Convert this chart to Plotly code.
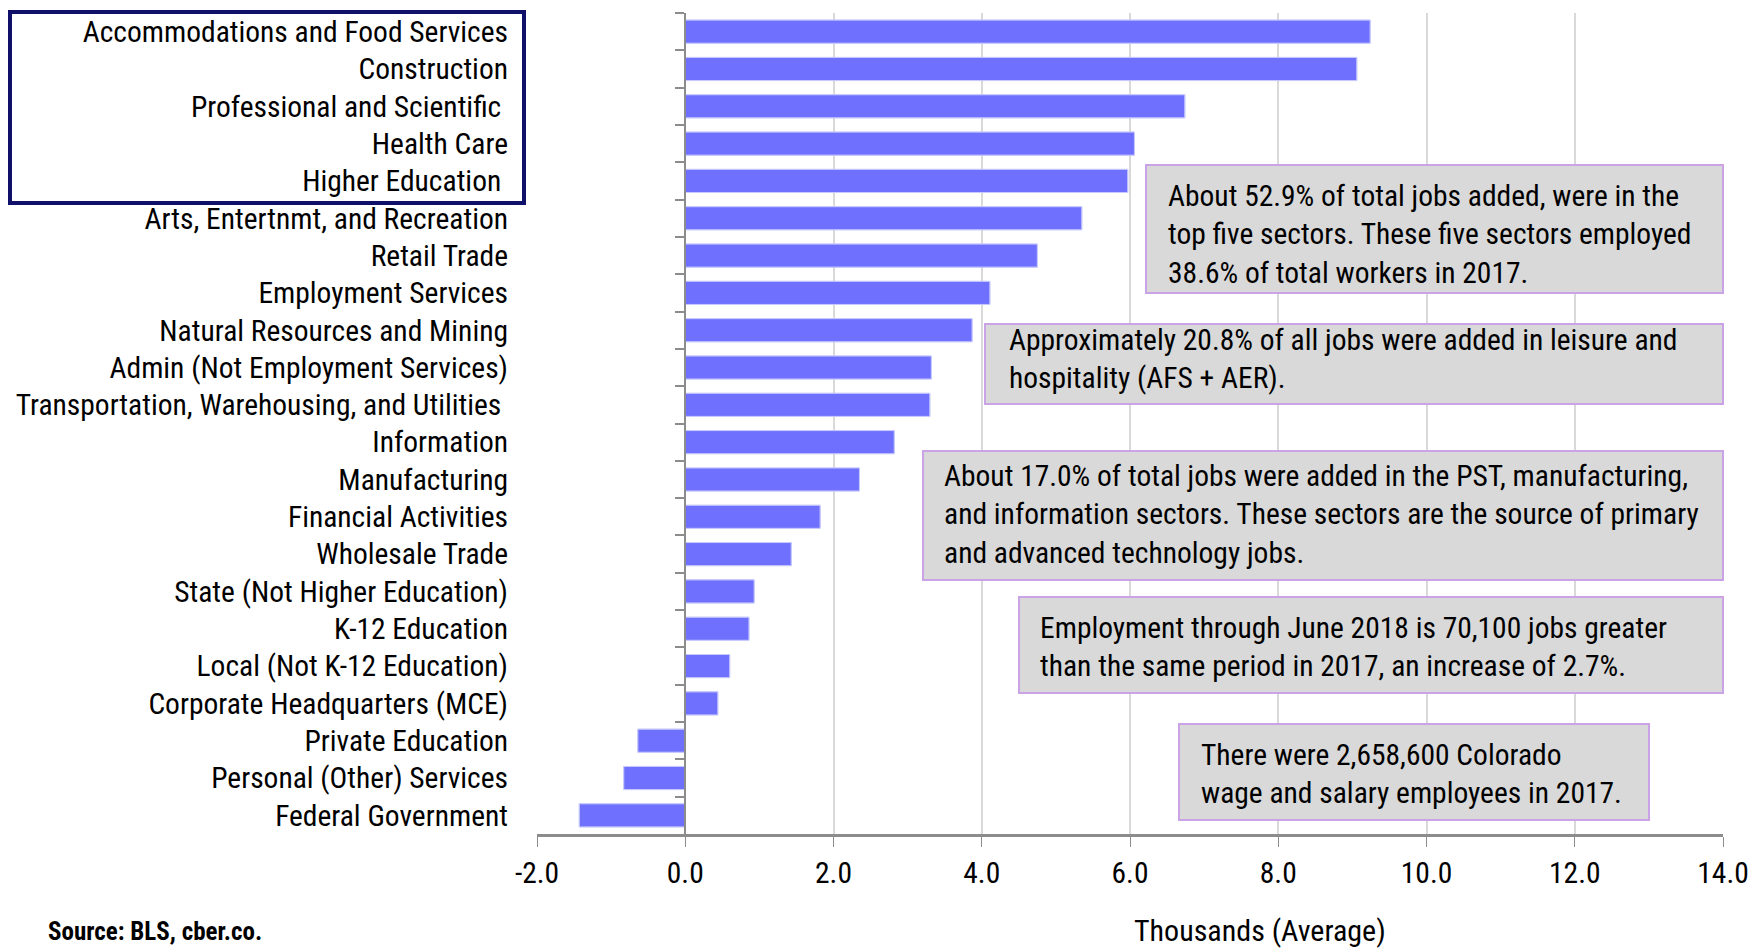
import plotly.graph_objects as go

categories = [
    "Accommodations and Food Services",
    "Construction",
    "Professional and Scientific ",
    "Health Care",
    "Higher Education ",
    "Arts, Entertnmt, and Recreation",
    "Retail Trade",
    "Employment Services",
    "Natural Resources and Mining",
    "Admin (Not Employment Services)",
    "Transportation, Warehousing, and Utilities ",
    "Information",
    "Manufacturing",
    "Financial Activities",
    "Wholesale Trade",
    "State (Not Higher Education)",
    "K-12 Education",
    "Local (Not K-12 Education)",
    "Corporate Headquarters (MCE)",
    "Private Education",
    "Personal (Other) Services",
    "Federal Government",
]
values = [9.24, 9.06, 6.74, 6.06, 5.97, 5.35, 4.75, 4.11, 3.87, 3.32, 3.30,
          2.82, 2.35, 1.82, 1.43, 0.93, 0.86, 0.60, 0.44, -0.64, -0.83, -1.43]
x_ticks = [-2, 0, 2, 4, 6, 8, 10, 12, 14]
x_tick_labels = ["-2.0", "0.0", "2.0", "4.0", "6.0", "8.0", "10.0", "12.0", "14.0"]

notes = [
    "About 52.9% of total jobs added, were in the<br>top five sectors. These five sectors employed<br>38.6% of total workers in 2017.",
    "Approximately 20.8% of all jobs were added in leisure and<br>hospitality (AFS + AER).",
    "About 17.0% of total jobs were added in the PST, manufacturing,<br>and information sectors. These sectors are the source of primary<br>and advanced technology jobs.",
    "Employment through June 2018 is 70,100 jobs greater<br>than the same period in 2017, an increase of 2.7%.",
    "There were 2,658,600 Colorado<br>wage and salary employees in 2017.",
]
# box pixel rectangles (left, top, right, bottom), text left, text centre y
note_boxes = [
    (1146, 165, 1723, 293),
    (985, 324, 1723, 404),
    (923, 451, 1723, 580),
    (1019, 597, 1723, 693),
    (1179, 724, 1649, 820),
]
note_text_pos = [(1166, 234), (1007, 359), (942, 514), (1038, 647), (1199, 774)]

FONT = "Roboto Condensed, Liberation Sans Narrow, Arial Narrow, sans-serif"
W, H = 1752, 948
L, R, T, B = 537, 1723, 13, 834
PW, PH = R - L, B - T

def px(x):
    return (x - L) / PW

def py(y):
    return (B - y) / PH

def fnt(size, bold=False):
    return dict(family=FONT, size=size, color="#000000",
                weight="bold" if bold else "normal")

tick_text = [c.replace(" ", "\u00a0") if c.endswith(" ") else c for c in categories]

fig = go.Figure()
fig.add_trace(go.Bar(
    x=values, y=categories, orientation="h",
    marker=dict(color="#7070ff", line=dict(color="#a8a8ff", width=1)),
    hoverinfo="x+y", showlegend=False,
))
fig.add_trace(go.Bar(
    x=values, y=categories, orientation="h", yaxis="y2",
    marker=dict(color="rgba(0,0,0,0)"), hoverinfo="skip", showlegend=False,
))

shapes = [dict(
    type="rect", xref="paper", yref="paper",
    x0=px(10), x1=px(524), y0=py(12), y1=py(203),
    line=dict(color="#10106b", width=4), fillcolor="rgba(0,0,0,0)",
)]
annotations = []
for text, (l, t, r, b), (tx, ty) in zip(notes, note_boxes, note_text_pos):
    shapes.append(dict(
        type="rect", xref="paper", yref="paper", layer="above",
        x0=px(l), x1=px(r), y0=py(b), y1=py(t),
        line=dict(color="#c9a3e6", width=2), fillcolor="#d9d9d9",
    ))
    annotations.append(dict(
        text=text, xref="paper", yref="paper", x=px(tx), y=py(ty),
        xanchor="left", yanchor="middle", align="left",
        showarrow=False, font=fnt(29.5),
    ))
annotations.append(dict(
    text="Thousands (Average)", xref="paper", yref="paper",
    x=px(1260), y=py(930), xanchor="center", yanchor="middle",
    showarrow=False, font=fnt(30),
))
annotations.append(dict(
    text="<b>Source: BLS, cber.co.</b>", xref="paper", yref="paper",
    x=px(46), y=py(931), xanchor="left", yanchor="middle",
    showarrow=False, font=fnt(25, True),
))

fig.update_layout(
    width=W, height=H,
    margin=dict(l=L, r=W - R, t=T, b=H - B),
    paper_bgcolor="white", plot_bgcolor="white",
    bargap=0.38,
    barmode="overlay",
    font=fnt(29.5),
    xaxis=dict(
        range=[-2, 14], tickmode="array", tickvals=x_ticks, ticktext=x_tick_labels,
        showgrid=True, gridcolor="#d9d9d9", gridwidth=2,
        zeroline=False, showline=True, linecolor="#8c8c8c", linewidth=3,
        ticks="outside", ticklen=10, tickwidth=1, tickcolor="#8c8c8c",
        tickfont=fnt(29.5), ticklabelstandoff=1, automargin=False,
    ),
    yaxis=dict(
        categoryorder="array", categoryarray=categories, autorange="reversed",
        tickmode="array", tickvals=categories, ticktext=tick_text,
        showgrid=False, zeroline=False, showline=False, ticks="",
        tickfont=fnt(29.5), ticklabelstandoff=28, automargin=False,
    ),
    yaxis2=dict(
        overlaying="y", anchor="free", position=px(685), side="left",
        categoryorder="array", categoryarray=categories, autorange="reversed",
        showgrid=False, zeroline=False, showline=True, linecolor="#8c8c8c", linewidth=2,
        ticks="outside", ticklen=9, tickwidth=2, tickcolor="#8c8c8c",
        tickson="boundaries", showticklabels=False, automargin=False,
    ),
    annotations=annotations,
    shapes=shapes,
)

fig.write_html("out.html")
